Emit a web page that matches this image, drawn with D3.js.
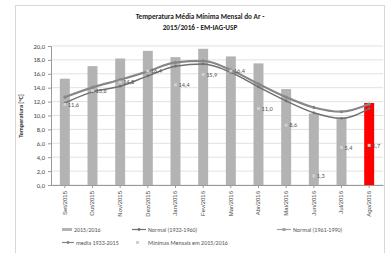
<!DOCTYPE html>
<html><head><meta charset="utf-8">
<script src="https://cdn.jsdelivr.net/npm/d3@7"></script>
<style>body{margin:0;background:#fff}svg{font-family:Calibri,Carlito,"Liberation Sans",Arial,sans-serif}</style>
</head><body><svg id="c" width="387" height="253"></svg>
<script>
const months = ["Set/2015","Out/2015","Nov/2015","Dez/2015","Jan/2016","Fev/2016","Mar/2016","Abr/2016","Mai/2016","Jun/2016","Jul/2016","Ago/2016"];
const bars2015 = [15.3,17.1,18.2,19.3,18.4,19.6,18.5,17.5,13.8,10.3,9.6,11.8];
const normal1933 = [11.8,13.4,14.2,15.7,17.1,17.4,16.2,14.1,12.1,10.4,9.6,11.0];
const normal1961 = [12.7,14.1,15.2,16.4,17.7,17.9,16.6,14.6,12.7,11.2,10.6,11.7];
const media1933 = [12.6,14.0,15.1,16.3,17.6,17.8,16.5,14.5,12.6,11.1,10.5,11.6];
const minimas = [11.6,13.6,14.8,16.4,14.4,15.9,16.4,11.0,8.6,1.3,5.4,5.7];
const yTicks = [0,2,4,6,8,10,12,14,16,18,20];

const svg = d3.select("#c");
svg.append("rect").attr("x",15.5).attr("y",5.5).attr("width",369).attr("height",250).attr("fill","#fff").attr("stroke","#d9d9d9");
const L=51,R=383,T=46,B=185;
const x = d3.scaleBand().domain(months).range([L,R]).paddingInner(0.64).paddingOuter(0.32);
const y = d3.scaleLinear().domain([0,20]).range([B,T]);
const fmt = v => d3.format(".1f")(v).replace(".",",");

svg.append("g").selectAll("line").data(yTicks).join("line")
  .attr("x1",L).attr("x2",R).attr("y1",d=>y(d)).attr("y2",d=>y(d)).attr("stroke","#d9d9d9").attr("stroke-width",0.8);

svg.append("text").attr("x",200).attr("y",19).attr("text-anchor","middle").attr("font-size",7.2).attr("font-weight","bold").attr("fill","#222").text("Temperatura Média Mínima Mensal do Ar -");
svg.append("text").attr("x",200).attr("y",30).attr("text-anchor","middle").attr("font-size",7.2).attr("font-weight","bold").attr("fill","#222").text("2015/2016 - EM-IAG-USP");

const ya = svg.append("g").attr("transform",`translate(${L},0)`).call(d3.axisLeft(y).tickValues(yTicks).tickFormat(fmt).tickSize(3));
ya.selectAll("text").attr("font-size",6.5).attr("fill","#444").attr("font-family","Calibri,Carlito,'Liberation Sans',sans-serif");
ya.selectAll("line,path").attr("stroke","#999");
svg.append("text").attr("transform","translate(23,116) rotate(-90)").attr("text-anchor","middle").attr("font-size",6.2).attr("font-weight","bold").attr("fill","#333").text("Temperatura [°C]");

svg.append("g").selectAll("rect").data(months).join("rect")
  .attr("x",d=>x(d)).attr("width",x.bandwidth())
  .attr("y",(d,i)=>y(bars2015[i])).attr("height",(d,i)=>B-y(bars2015[i]))
  .attr("fill",(d,i)=>i===11?"#ff0000":"#b3b3b3");

const xa = svg.append("g").attr("transform",`translate(0,${B})`).call(d3.axisBottom(x).tickSize(3).tickSizeOuter(0));
xa.selectAll("line,path").attr("stroke","#999");
xa.selectAll("text").attr("font-size",6).attr("fill","#444").attr("transform","rotate(-90)")
  .attr("text-anchor","end").attr("x",-6).attr("y",0).attr("dy","0.32em");

const cx = d => x(d)+x.bandwidth()/2;
const line = arr => d3.line().x((d,i)=>cx(months[i])).y(d=>y(d)).curve(d3.curveMonotoneX)(arr);
const series = [
  {v:normal1961,c:"#8f8f8f"},
  {v:media1933,c:"#858585"},
  {v:normal1933,c:"#707070"}
];
series.forEach(s=>{
  svg.append("path").attr("d",line(s.v)).attr("fill","none").attr("stroke",s.c).attr("stroke-width",1.5);
  svg.append("g").selectAll("circle").data(s.v).join("circle")
    .attr("cx",(d,i)=>cx(months[i])).attr("cy",d=>y(d)).attr("r",1.3).attr("fill",s.c);
});
svg.append("g").selectAll("rect").data(minimas).join("rect")
  .attr("x",(d,i)=>cx(months[i])-1.5).attr("y",d=>y(d)-1.5).attr("width",3).attr("height",3).attr("fill","#d0d0d0");
svg.append("g").selectAll("text").data(minimas).join("text")
  .attr("x",(d,i)=>cx(months[i])+3).attr("y",d=>y(d)).attr("dy","0.35em")
  .attr("font-size",6.3).attr("fill","#555").text(d=>fmt(d));

const lg = svg.append("g").attr("font-size",6).attr("fill","#555");
lg.append("rect").attr("x",62).attr("y",228).attr("width",10).attr("height",3).attr("fill","#b3b3b3");
lg.append("text").attr("x",74).attr("y",232).text("2015/2016");
lg.append("line").attr("x1",132).attr("x2",146).attr("y1",229.5).attr("y2",229.5).attr("stroke","#707070").attr("stroke-width",1.2);
lg.append("circle").attr("cx",139).attr("cy",229.5).attr("r",1.4).attr("fill","#707070");
lg.append("text").attr("x",148).attr("y",232).text("Normal (1933-1960)");
lg.append("line").attr("x1",277).attr("x2",291).attr("y1",229.5).attr("y2",229.5).attr("stroke","#a0a0a0").attr("stroke-width",1.2);
lg.append("rect").attr("x",282.5).attr("y",228).attr("width",3).attr("height",3).attr("fill","#a0a0a0");
lg.append("text").attr("x",293).attr("y",232).text("Normal (1961-1990)");
lg.append("line").attr("x1",62).attr("x2",74).attr("y1",242.5).attr("y2",242.5).attr("stroke","#858585").attr("stroke-width",1.2);
lg.append("circle").attr("cx",68).attr("cy",242.5).attr("r",1.4).attr("fill","#858585");
lg.append("text").attr("x",76).attr("y",245).text("media 1933-2015");
lg.append("rect").attr("x",136).attr("y",241).attr("width",3).attr("height",3).attr("fill","#d0d0d0");
lg.append("text").attr("x",148).attr("y",245).text("Mínimas Mensais em 2015/2016");
</script></body></html>
